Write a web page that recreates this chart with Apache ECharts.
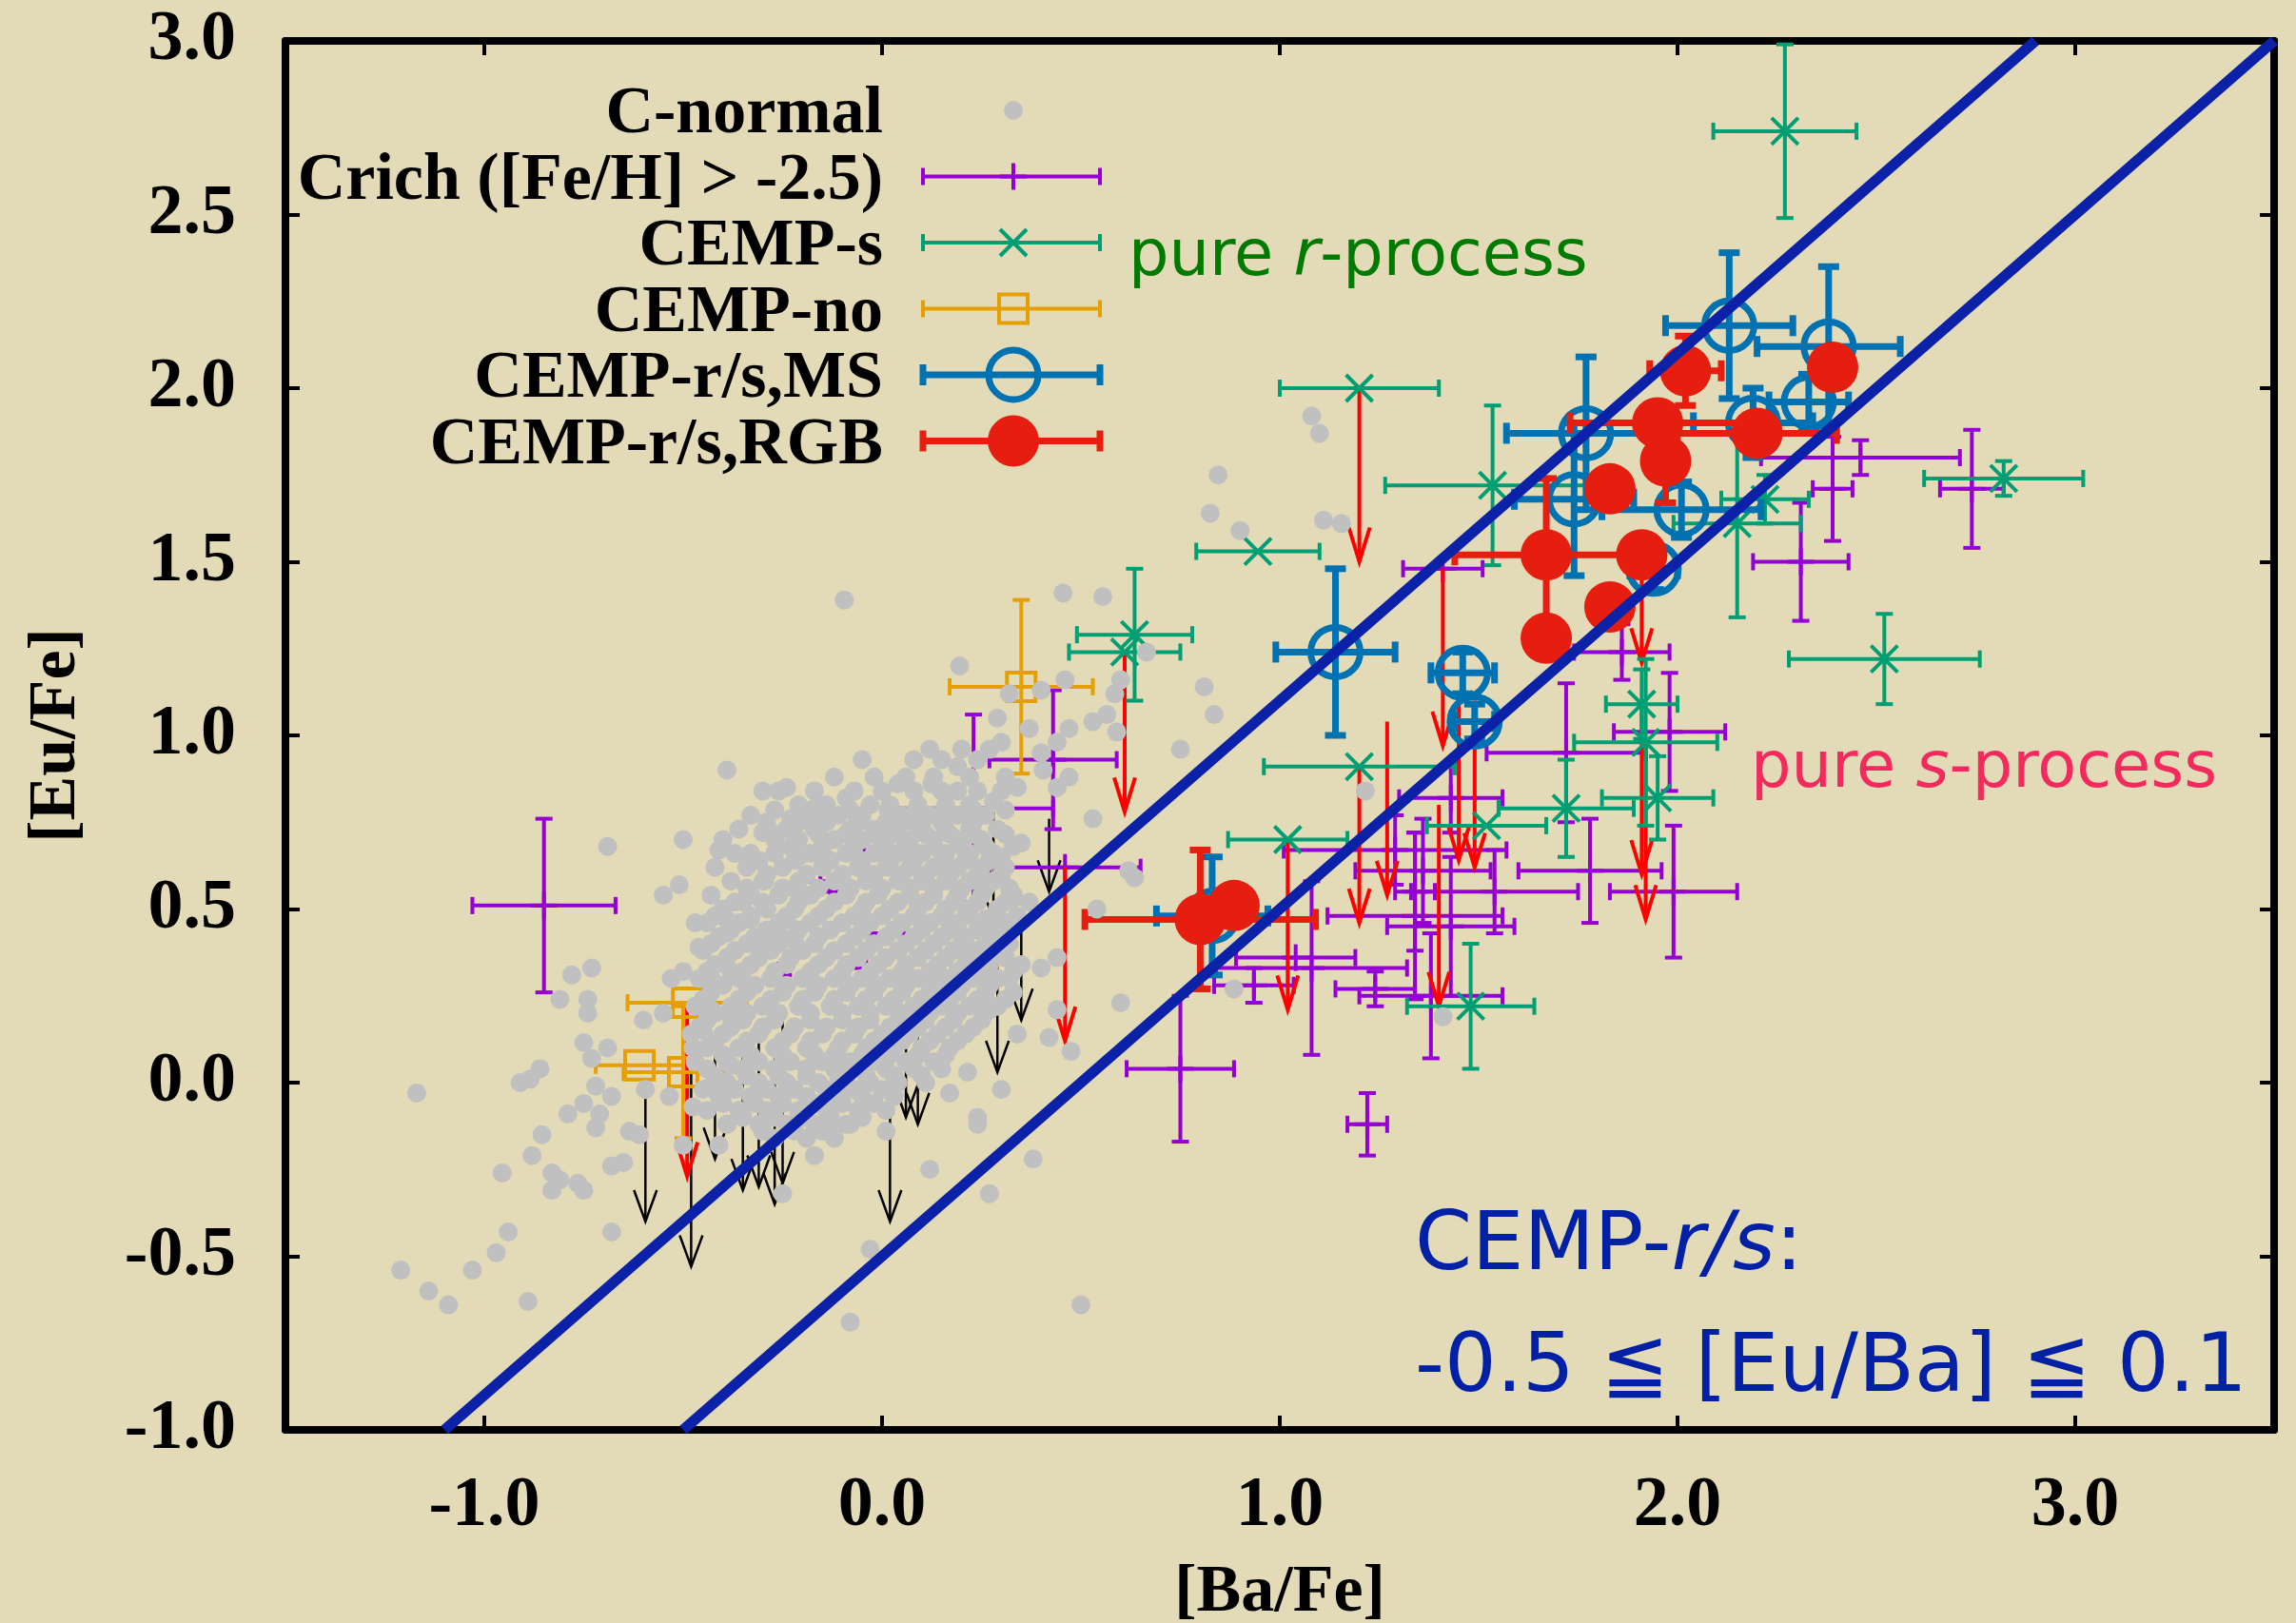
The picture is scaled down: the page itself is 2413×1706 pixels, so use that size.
<!DOCTYPE html>
<html>
<head>
<meta charset="utf-8">
<script src="https://cdn.jsdelivr.net/npm/echarts@6.0.0/dist/echarts.min.js"></script>
<style>
html,body{margin:0;padding:0;background:#e3dbb7}
#chart{width:2413px;height:1706px}
</style>
</head>
<body>
<div id="chart"></div>
<script>
// [x, y] C-normal stars (core is estimated)
var cNormal = [
  [1.08,1.92],[1.10,1.87],[0.845,1.75],[0.825,1.64],[0.90,1.59],[1.11,1.62],[1.155,1.61],[-0.095,1.39],
  [0.455,1.41],[0.555,1.40],[0.195,1.20],[0.46,1.16],[0.60,1.16],[0.585,1.12],[0.665,1.24],[0.81,1.14],
  [0.835,1.06],[0.75,0.96],[0.29,1.05],[0.37,1.02],[0.47,1.02],[0.53,1.04],[0.565,1.06],[0.59,1.01],
  [0.30,0.98],[0.44,0.98],[0.40,0.95],[0.32,1.12],[0.40,1.13],
  [-0.39,0.90],[-0.69,0.68],[-0.50,0.70],[-0.41,0.67],[-0.26,0.84],[-0.24,0.85],[-0.17,0.79],[-0.09,0.82],
  [-0.23,0.76],[-0.06,0.76],[0.04,0.86],[0.125,0.86],[-0.30,0.72],[-0.27,0.70],[-0.33,0.66],[-0.31,0.64],
  [-0.295,0.58],[-0.51,0.57],[-0.55,0.54],[-0.35,0.52],[-0.39,0.47],[-0.47,0.46],[-0.39,0.43],[-0.46,0.39],
  [-0.33,0.47],[-0.24,0.47],[-0.30,0.40],[-0.22,0.41],[-0.22,0.56],[-0.21,0.65],[-0.145,0.65],[-0.145,0.69],
  [-0.78,0.31],[-0.73,0.33],[-0.81,0.24],[-0.74,0.24],[-0.74,0.20],[-0.60,0.18],[-0.53,0.30],[-0.50,0.32],
  [-0.55,0.20],[-0.75,0.115],[-0.69,0.10],[-0.73,0.07],[-0.86,0.04],[-0.91,0.00],[-0.885,0.01],[-1.17,-0.03],
  [-0.72,-0.01],[-0.68,-0.04],[-0.75,-0.06],[-0.79,-0.09],[-0.71,-0.09],[-0.595,-0.02],[-0.535,-0.04],
  [-0.475,0.10],[-0.45,0.15],[-0.43,0.21],[-0.43,0.30],[-0.38,0.32],[-0.38,0.19],[-0.38,0.05],[-0.43,-0.01],
  [-0.36,-0.08],[-0.475,-0.07],
  [-0.855,-0.15],[-0.88,-0.21],[-0.955,-0.26],[-0.83,-0.26],[-0.81,-0.28],[-0.83,-0.31],[-0.765,-0.29],
  [-0.75,-0.31],[-0.94,-0.43],[-0.97,-0.49],[-1.03,-0.54],[-1.21,-0.54],[-1.14,-0.60],[-1.09,-0.64],
  [-0.89,-0.63],[-0.68,-0.43],[-0.68,-0.24],[-0.65,-0.23],[-0.72,-0.13],[-0.635,-0.14],[-0.61,-0.15],
  [-0.50,-0.18],[-0.41,-0.18],[-0.39,-0.12],[-0.25,-0.32],[-0.17,-0.21],[-0.12,-0.16],[-0.08,-0.12],
  [0.01,-0.14],[0.12,-0.25],[-0.03,-0.48],[-0.08,-0.69],[-0.135,-0.13],
  [0.24,-0.12],[0.38,-0.22],[0.27,-0.32],[0.50,-0.64],
  [0.19,0.91],[0.31,0.88],[0.405,0.90],[0.47,0.88],[0.34,0.85],[0.44,0.85],[0.19,0.84],[0.28,0.81],
  [0.53,0.76],[0.35,0.69],[0.30,0.65],[0.62,0.61],[0.635,0.59],[0.26,0.56],[0.33,0.53],[0.37,0.52],
  [0.54,0.50],[0.26,0.47],[0.44,0.36],[0.40,0.33],[0.32,0.30],[0.60,0.23],[0.44,0.21],[0.27,0.21],
  [0.34,0.14],[0.42,0.13],[0.475,0.09],[0.215,0.03],[0.30,-0.02],[0.24,-0.10],[0.17,-0.03],[0.885,0.27],
  [1.215,0.84],[1.41,0.19],
  // dense core
  [-0.21,0.80],[-0.14,0.80],[-0.03,0.80],[0.02,0.80],[0.09,0.80],[0.16,0.80],[0.22,0.80],
  [-0.33,0.77],[-0.18,0.77],[-0.11,0.77],[-0.05,0.77],[0.05,0.77],[0.12,0.77],[0.19,0.77],[0.26,0.77],
  [-0.36,0.73],[-0.24,0.73],[-0.17,0.73],[-0.08,0.73],[-0.02,0.73],[0.04,0.73],[0.10,0.73],[0.16,0.73],[0.22,0.73],[0.29,0.73],
  [-0.40,0.70],[-0.21,0.70],[-0.12,0.70],[-0.05,0.70],[0.01,0.70],[0.07,0.70],[0.13,0.70],[0.19,0.70],[0.25,0.70],
  [-0.37,0.66],[-0.27,0.66],[-0.18,0.66],[-0.09,0.66],[-0.02,0.66],[0.04,0.66],[0.10,0.66],[0.16,0.66],[0.22,0.66],[0.28,0.66],
  [-0.42,0.62],[-0.34,0.62],[-0.25,0.62],[-0.15,0.62],[-0.06,0.62],[0.01,0.62],[0.07,0.62],[0.13,0.62],[0.19,0.62],[0.25,0.62],[0.31,0.62],
  [-0.38,0.58],[-0.30,0.58],[-0.21,0.58],[-0.12,0.58],[-0.04,0.58],[0.04,0.58],[0.10,0.58],[0.16,0.58],[0.22,0.58],[0.28,0.58],
  [-0.43,0.54],[-0.33,0.54],[-0.26,0.54],[-0.18,0.54],[-0.09,0.54],[-0.01,0.54],[0.07,0.54],[0.13,0.54],[0.19,0.54],[0.25,0.54],[0.33,0.54],
  [-0.40,0.50],[-0.29,0.50],[-0.22,0.50],[-0.14,0.50],[-0.05,0.50],[0.02,0.50],[0.09,0.50],[0.16,0.50],[0.22,0.50],[0.29,0.50],
  [-0.44,0.46],[-0.36,0.46],[-0.26,0.46],[-0.18,0.46],[-0.10,0.46],[-0.03,0.46],[0.05,0.46],[0.12,0.46],[0.19,0.46],[0.25,0.46],[0.31,0.46],
  [-0.41,0.42],[-0.32,0.42],[-0.25,0.42],[-0.16,0.42],[-0.07,0.42],[0.01,0.42],[0.08,0.42],[0.15,0.42],[0.21,0.42],[0.28,0.42],
  [-0.45,0.38],[-0.37,0.38],[-0.28,0.38],[-0.20,0.38],[-0.12,0.38],[-0.04,0.38],[0.04,0.38],[0.11,0.38],[0.18,0.38],[0.24,0.38],[0.30,0.38],
  [-0.42,0.34],[-0.33,0.34],[-0.24,0.34],[-0.16,0.34],[-0.09,0.34],[-0.01,0.34],[0.06,0.34],[0.14,0.34],[0.21,0.34],[0.27,0.34],[0.35,0.34],
  [-0.46,0.30],[-0.36,0.30],[-0.28,0.30],[-0.20,0.30],[-0.12,0.30],[-0.05,0.30],[0.02,0.30],[0.09,0.30],[0.16,0.30],[0.23,0.30],[0.29,0.30],
  [-0.43,0.26],[-0.34,0.26],[-0.25,0.26],[-0.17,0.26],[-0.09,0.26],[-0.02,0.26],[0.05,0.26],[0.12,0.26],[0.19,0.26],[0.26,0.26],[0.33,0.26],
  [-0.47,0.22],[-0.38,0.22],[-0.30,0.22],[-0.21,0.22],[-0.13,0.22],[-0.06,0.22],[0.01,0.22],[0.08,0.22],[0.15,0.22],[0.22,0.22],[0.29,0.22],
  [-0.44,0.18],[-0.35,0.18],[-0.27,0.18],[-0.18,0.18],[-0.10,0.18],[-0.03,0.18],[0.04,0.18],[0.11,0.18],[0.18,0.18],[0.25,0.18],
  [-0.48,0.14],[-0.40,0.14],[-0.31,0.14],[-0.23,0.14],[-0.15,0.14],[-0.07,0.14],[0.00,0.14],[0.07,0.14],[0.14,0.14],[0.21,0.14],
  [-0.44,0.10],[-0.36,0.10],[-0.27,0.10],[-0.19,0.10],[-0.11,0.10],[-0.04,0.10],[0.03,0.10],[0.10,0.10],[0.17,0.10],
  [-0.47,0.06],[-0.39,0.06],[-0.31,0.06],[-0.23,0.06],[-0.15,0.06],[-0.08,0.06],[-0.01,0.06],[0.06,0.06],[0.13,0.06],
  [-0.42,0.02],[-0.34,0.02],[-0.26,0.02],[-0.19,0.02],[-0.11,0.02],[-0.04,0.02],[0.03,0.02],[0.10,0.02],
  [-0.45,-0.02],[-0.37,-0.02],[-0.29,-0.02],[-0.22,-0.02],[-0.14,-0.02],[-0.07,-0.02],[0.00,-0.02],
  [-0.40,-0.06],[-0.32,-0.06],[-0.25,-0.06],[-0.17,-0.06],[-0.10,-0.06],[-0.02,-0.06],
  [-0.35,-0.10],[-0.27,-0.10],[-0.20,-0.10],[-0.13,-0.10],[-0.05,-0.10],
  [-0.30,-0.14],[-0.22,-0.14],[-0.15,-0.14],
  // second pass over the core, filling the gaps
  [0.12,0.96],[0.20,0.96],[0.27,0.96],
  [-0.05,0.93],[0.08,0.93],[0.15,0.93],[0.24,0.93],
  [-0.12,0.88],[-0.02,0.88],[0.06,0.88],[0.13,0.88],[0.22,0.88],
  [-0.30,0.84],[-0.17,0.84],[-0.07,0.84],[0.00,0.84],[0.08,0.84],[0.15,0.84],[0.24,0.84],[0.30,0.84],
  [-0.27,0.785],[-0.08,0.785],[0.015,0.785],[0.085,0.785],[0.155,0.785],[0.23,0.785],[0.31,0.785],
  [-0.29,0.75],[-0.21,0.75],[-0.14,0.75],[-0.06,0.75],[0.01,0.75],[0.08,0.75],[0.15,0.75],[0.23,0.75],
  [-0.27,0.715],[-0.16,0.715],[-0.09,0.715],[-0.02,0.715],[0.04,0.715],[0.11,0.715],[0.17,0.715],[0.23,0.715],[0.31,0.715],
  [-0.23,0.68],[-0.15,0.68],[-0.07,0.68],[0.00,0.68],[0.06,0.68],[0.13,0.68],[0.20,0.68],[0.26,0.68],[0.33,0.68],
  [-0.31,0.64],[-0.22,0.64],[-0.13,0.64],[-0.05,0.64],[0.02,0.64],[0.08,0.64],[0.15,0.64],[0.21,0.64],[0.27,0.64],
  [-0.29,0.60],[-0.19,0.60],[-0.10,0.60],[-0.02,0.60],[0.05,0.60],[0.11,0.60],[0.17,0.60],[0.24,0.60],[0.30,0.60],
  [-0.34,0.56],[-0.25,0.56],[-0.16,0.56],[-0.08,0.56],[0.00,0.56],[0.07,0.56],[0.13,0.56],[0.20,0.56],[0.26,0.56],[0.32,0.56],
  [-0.37,0.52],[-0.30,0.52],[-0.21,0.52],[-0.12,0.52],[-0.04,0.52],[0.04,0.52],[0.11,0.52],[0.18,0.52],[0.24,0.52],[0.31,0.52],
  [-0.42,0.48],[-0.33,0.48],[-0.24,0.48],[-0.16,0.48],[-0.07,0.48],[0.00,0.48],[0.08,0.48],[0.15,0.48],[0.21,0.48],[0.28,0.48],[0.34,0.48],
  [-0.38,0.44],[-0.29,0.44],[-0.21,0.44],[-0.13,0.44],[-0.05,0.44],[0.03,0.44],[0.10,0.44],[0.17,0.44],[0.24,0.44],[0.29,0.44],
  [-0.43,0.40],[-0.34,0.40],[-0.26,0.40],[-0.17,0.40],[-0.09,0.40],[-0.02,0.40],[0.06,0.40],[0.13,0.40],[0.20,0.40],[0.26,0.40],[0.32,0.40],
  [-0.39,0.36],[-0.31,0.36],[-0.23,0.36],[-0.14,0.36],[-0.06,0.36],[0.01,0.36],[0.09,0.36],[0.16,0.36],[0.22,0.36],[0.31,0.36],
  [-0.44,0.32],[-0.35,0.32],[-0.27,0.32],[-0.18,0.32],[-0.10,0.32],[-0.03,0.32],[0.05,0.32],[0.12,0.32],[0.19,0.32],[0.26,0.32],[0.33,0.32],
  [-0.40,0.28],[-0.32,0.28],[-0.24,0.28],[-0.16,0.28],[-0.08,0.28],[-0.01,0.28],[0.06,0.28],[0.13,0.28],[0.20,0.28],[0.27,0.28],
  [-0.45,0.24],[-0.36,0.24],[-0.28,0.24],[-0.20,0.24],[-0.12,0.24],[-0.04,0.24],[0.03,0.24],[0.10,0.24],[0.17,0.24],[0.24,0.24],[0.31,0.24],
  [-0.42,0.20],[-0.34,0.20],[-0.26,0.20],[-0.18,0.20],[-0.10,0.20],[-0.03,0.20],[0.05,0.20],[0.12,0.20],[0.19,0.20],[0.26,0.20],
  [-0.46,0.16],[-0.38,0.16],[-0.30,0.16],[-0.22,0.16],[-0.14,0.16],[-0.06,0.16],[0.02,0.16],[0.09,0.16],[0.16,0.16],[0.23,0.16],
  [-0.42,0.12],[-0.34,0.12],[-0.25,0.12],[-0.18,0.12],[-0.10,0.12],[-0.02,0.12],[0.05,0.12],[0.12,0.12],[0.19,0.12],
  [-0.40,0.08],[-0.33,0.08],[-0.25,0.08],[-0.17,0.08],[-0.12,0.08],[-0.05,0.08],[0.02,0.08],[0.09,0.08],[0.16,0.08],
  [-0.44,0.04],[-0.35,0.04],[-0.27,0.04],[-0.19,0.04],[-0.12,0.04],[-0.05,0.04],[0.01,0.04],[0.08,0.04],[0.15,0.04],
  [-0.39,0.00],[-0.31,0.00],[-0.24,0.00],[-0.16,0.00],[-0.09,0.00],[-0.03,0.00],[0.04,0.00],[0.11,0.00],
  [-0.41,-0.04],[-0.33,-0.04],[-0.26,-0.04],[-0.19,-0.04],[-0.11,-0.04],[-0.05,-0.04],[0.03,-0.04],
  [-0.44,-0.08],[-0.36,-0.08],[-0.29,-0.08],[-0.21,-0.08],[-0.14,-0.08],[-0.06,-0.08],[0.01,-0.08],
  [-0.39,-0.12],[-0.31,-0.12],[-0.24,-0.12],[-0.17,-0.12],[-0.09,-0.12],
  [-0.27,-0.16],[-0.19,-0.16]
];

// [x, y, xerr, yerr]
var crich = [
  [-0.85,0.51,0.18,0.25],[0.75,0.04,0.135,0.21],[1.22,-0.12,0.05,0.09],[2.31,1.50,0.12,0.17],
  [2.74,1.71,0.08,0.17],[2.46,1.80,0.25,0.05],[2.39,1.71,0.05,0.15],[1.99,0.55,0.16,0.19],
  [0.23,0.79,0.20,0.27],[0.43,0.93,0.16,0.20],[0.46,0.62,0.19,0],
  [-0.07,0.67,0,0],[-0.155,0.58,0,0],[-0.13,0.55,0,0],[-0.03,0.43,0,0],[0.045,0.43,0,0],[-0.04,0.33,0,0],[-0.26,0.31,0,0],
  [1.41,1.48,0.10,0],[1.72,0.95,0.20,0.20],[1.86,1.24,0.12,0.08],[1.98,1.01,0.14,0.17],
  [1.43,0.82,0.13,0.10],[1.29,0.67,0.28,0.10],[1.36,0.61,0.17,0.15],[1.78,0.61,0.18,0.15],
  [1.54,0.55,0.21,0.12],[1.34,0.48,0.22,0.24],[1.43,0.45,0.16,0.20],[1.04,0.36,0.15,0],
  [1.08,0.33,0.24,0.25],[0.935,0.28,0.10,0.05],[1.24,0.27,0.10,0.05],[1.38,0.25,0.18,0.18],[1.34,0.55,0.05,0.17]
];
var cempS = [
  [2.27,2.74,0.18,0.25],[1.20,2.00,0.20,0],[0.945,1.53,0.155,0],[0.635,1.29,0.145,0.19],[0.61,1.24,0.14,0],
  [1.535,1.72,0.27,0.23],[2.82,1.74,0.20,0.05],[2.52,1.22,0.24,0.13],[2.15,1.61,0.16,0.27],[2.22,1.68,0.11,0.07],
  [1.91,1.09,0.09,0.10],[1.92,0.98,0.18,0.24],[1.95,0.82,0.14,0.12],[1.20,0.91,0.24,0],[1.72,0.79,0.17,0.14],
  [1.52,0.74,0.15,0],[1.02,0.70,0.15,0],[1.48,0.22,0.16,0.18]
];
var cempNo = [
  [0.35,1.14,0.18,0.25],[-0.49,0.23,0.15,0],[-0.50,0.03,0.15,0.19],[-0.61,0.05,0.11,0]
];
var rsMS = [
  [2.13,2.18,0.16,0.21],[2.38,2.12,0.18,0.23],[2.19,1.90,0.15,0.10],[2.33,1.96,0.10,0.08],
  [1.77,1.87,0.20,0.22],[1.74,1.68,0.15,0.22],[2.01,1.65,0.20,0.08],[1.94,1.48,0.06,0.06],
  [1.14,1.24,0.15,0.24],[1.46,1.18,0.08,0.06],[1.49,1.04,0.05,0.05],[0.83,0.48,0.14,0.17]
];
var rsRGB = [
  [2.02,2.05,0.09,0.10],[2.39,2.06,0.05,0.05],[1.95,1.90,0.22,0.05],[2.20,1.87,0.20,0.05],
  [1.97,1.79,0.05,0.12],[1.83,1.71,0.05,0.05],[1.67,1.52,0.23,0.22],[1.91,1.52,0.05,0.05],
  [1.83,1.37,0.05,0.05],[1.67,1.28,0.05,0.05],[0.80,0.47,0.29,0.20],[0.885,0.51,0.05,0.05]
];
// upper limits on [Eu/Fe]: [x, y from, y to]
var redLimits = [
  [1.20,2.00,1.50],[0.61,1.24,0.78],[1.20,0.91,0.46],[1.02,0.70,0.21],[1.41,1.48,0.97],[1.27,1.04,0.54],
  [1.45,1.10,0.64],[1.49,1.10,0.62],[1.40,0.80,0.22],[1.91,1.45,1.21],[1.91,1.09,0.60],[1.92,0.98,0.47],
  [0.46,0.62,0.12],[-0.49,0.22,-0.27]
];
var blackLimits = [
  [-0.595,-0.02,-0.40],[-0.48,0.03,-0.53],[-0.42,0.14,-0.22],[-0.35,0.10,-0.31],[-0.31,0.15,-0.30],
  [-0.27,0.10,-0.35],[-0.25,0.20,-0.29],[0.02,0.10,-0.40],[0.09,0.25,-0.12],[0.06,0.15,-0.10],
  [0.28,0.78,0.47],[0.29,0.50,0.03],[0.35,0.48,0.18],[0.42,0.76,0.55]
];
// [Eu/Ba] = 0.1 and [Eu/Ba] = -0.5
var upperBound = [[-1.1,-1.0],[2.9,3.0]];
var lowerBound = [[-0.5,-1.0],[3.5,3.0]];
var xTicks = [-1, 0, 1, 2, 3];
var legendNames = ['C-normal', 'Crich ([Fe/H] > -2.5)', 'CEMP-s', 'CEMP-no', 'CEMP-r/s,MS', 'CEMP-r/s,RGB'];

var PURPLE = '#9400d3', GREEN = '#009e73', ORANGE = '#e69f00', BLUE = '#0072b2', RED = '#e51e10';
var SERIF = '"Liberation Serif", "Times New Roman", serif';
var SANS = '"DejaVu Sans", Verdana, sans-serif';

function ln(x1, y1, x2, y2, c, w) {
  return {type: 'line', shape: {x1: x1, y1: y1, x2: x2, y2: y2}, style: {stroke: c, lineWidth: w}};
}

function marker(kind, cx, cy, color) {
  var s;
  if (kind === 'plus') {
    s = 14;
    return [ln(cx - s, cy, cx + s, cy, color, 4), ln(cx, cy - s, cx, cy + s, color, 4)];
  }
  if (kind === 'cross') {
    s = 14;
    return [ln(cx - s, cy - s, cx + s, cy + s, color, 4), ln(cx - s, cy + s, cx + s, cy - s, color, 4)];
  }
  if (kind === 'square') {
    return [{type: 'rect', shape: {x: cx - 15, y: cy - 15, width: 30, height: 30}, style: {stroke: color, lineWidth: 4, fill: null}}];
  }
  if (kind === 'ring') {
    return [{type: 'circle', shape: {cx: cx, cy: cy, r: 26}, style: {stroke: color, lineWidth: 7, fill: null}}];
  }
  if (kind === 'disc') {
    return [{type: 'circle', shape: {cx: cx, cy: cy, r: 27}, style: {fill: color}}];
  }
  return [{type: 'circle', shape: {cx: cx, cy: cy, r: 10}, style: {fill: color}}];
}

function errorSeries(name, data, kind, color, lw, cap) {
  return {
    type: 'custom', name: name, data: data, clip: true, encode: {x: 0, y: 1},
    renderItem: function (p, api) {
      var x = api.value(0), y = api.value(1), ex = api.value(2), ey = api.value(3);
      var c = api.coord([x, y]);
      var kids = [];
      if (ex > 0) {
        var l = api.coord([x - ex, y]), r = api.coord([x + ex, y]);
        kids.push(ln(l[0], c[1], r[0], c[1], color, lw));
        kids.push(ln(l[0], c[1] - cap, l[0], c[1] + cap, color, lw));
        kids.push(ln(r[0], c[1] - cap, r[0], c[1] + cap, color, lw));
      }
      if (ey > 0) {
        var t = api.coord([x, y + ey]), b = api.coord([x, y - ey]);
        kids.push(ln(c[0], t[1], c[0], b[1], color, lw));
        kids.push(ln(c[0] - cap, t[1], c[0] + cap, t[1], color, lw));
        kids.push(ln(c[0] - cap, b[1], c[0] + cap, b[1], color, lw));
      }
      return {type: 'group', children: kids.concat(marker(kind, c[0], c[1], color))};
    }
  };
}

function arrowSeries(data, color, lw, hw, hh) {
  return {
    type: 'custom', data: data, clip: true, encode: {x: 0, y: 1},
    renderItem: function (p, api) {
      var x = api.value(0);
      var a = api.coord([x, api.value(1)]), b = api.coord([x, api.value(2)]);
      return {type: 'group', children: [
        ln(a[0], a[1], b[0], b[1], color, lw),
        {type: 'polyline', shape: {points: [[b[0] - hw, b[1] - hh], [b[0], b[1]], [b[0] + hw, b[1] - hh]]},
          style: {stroke: color, lineWidth: lw, fill: null}}
      ]};
    }
  };
}

// legend drawn as graphic elements
var legendKinds = [
  ['dot', '#c0c0c0', 0], ['plus', PURPLE, 4], ['cross', GREEN, 4],
  ['square', ORANGE, 4], ['ring', BLUE, 7], ['disc', RED, 7]
];
var legendEls = [];
legendNames.forEach(function (nm, i) {
  var y = 116 + i * 69.5;
  legendEls.push({type: 'text', x: 928, y: y + 5, style: {text: nm, fill: '#000', fontFamily: SERIF, fontWeight: 'bold',
    fontSize: 70, textAlign: 'right', textVerticalAlign: 'middle'}});
  var k = legendKinds[i];
  if (k[2] > 0) {
    var cap = k[2] > 5 ? 11 : 9;
    legendEls.push(ln(970, y, 1156, y, k[1], k[2]));
    legendEls.push(ln(970, y - cap, 970, y + cap, k[1], k[2]));
    legendEls.push(ln(1156, y - cap, 1156, y + cap, k[1], k[2]));
  }
  legendEls = legendEls.concat(marker(k[0], 1065, y, k[1]));
});

var annot = [
  {type: 'text', x: 1186, y: 272, style: {
    text: '{n|pure }{i|r}{n|-process}', textVerticalAlign: 'middle',
    rich: {n: {fontFamily: SANS, fontSize: 67, fill: '#007a00'}, i: {fontFamily: SANS, fontSize: 67, fontStyle: 'italic', fill: '#007a00'}}
  }},
  {type: 'text', x: 1840, y: 810, style: {
    text: '{n|pure }{i|s}{n|-process}', textVerticalAlign: 'middle',
    rich: {n: {fontFamily: SANS, fontSize: 67, fill: '#f22a5e'}, i: {fontFamily: SANS, fontSize: 67, fontStyle: 'italic', fill: '#f22a5e'}}
  }},
  {type: 'text', x: 1487, y: 1312, style: {
    text: '{n|CEMP-}{i|r/s}{n|:}', textVerticalAlign: 'middle',
    rich: {n: {fontFamily: SANS, fontSize: 86, fill: '#0020a6'}, i: {fontFamily: SANS, fontSize: 86, fontStyle: 'italic', fill: '#0020a6'}}
  }},
  {type: 'text', x: 1487, y: 1440, style: {
    text: '-0.5 ≦ [Eu/Ba] ≦ 0.1', textVerticalAlign: 'middle',
    fontFamily: SANS, fontSize: 86, fill: '#0020a6'
  }}
];

var axisLine = {show: true, onZero: false, lineStyle: {color: '#000', width: 8}};
var tickStyle = {inside: true, length: 15, lineStyle: {color: '#000', width: 4}};
var labelFont = {fontFamily: SERIF, fontWeight: 'bold', fontSize: 74, color: '#000'};

var chart = echarts.init(document.getElementById('chart'), null, {renderer: 'canvas'});
chart.setOption({
  backgroundColor: '#e3dbb7',
  animation: false,
  grid: {left: 300, right: 23, top: 43, bottom: 203, containLabel: false, outerBoundsMode: 'none'},
  xAxis: [
    {type: 'value', min: -1.5, max: 3.5, position: 'bottom', name: '[Ba/Fe]', nameLocation: 'middle', nameGap: 137,
      nameTextStyle: {fontFamily: SERIF, fontWeight: 'bold', fontSize: 70, color: '#000'},
      axisLine: axisLine,
      axisTick: Object.assign({customValues: xTicks}, tickStyle),
      axisLabel: Object.assign({customValues: xTicks, margin: 44, formatter: function (v) { return v.toFixed(1); }}, labelFont),
      splitLine: {show: false}},
    {type: 'value', min: -1.5, max: 3.5, position: 'top', axisLine: axisLine,
      axisTick: Object.assign({customValues: xTicks}, tickStyle), axisLabel: {show: false}, splitLine: {show: false}}
  ],
  yAxis: [
    {type: 'value', min: -1, max: 3, interval: 0.5, position: 'left', name: '[Eu/Fe]', nameLocation: 'middle', nameGap: 205,
      nameRotate: 90, nameTextStyle: {fontFamily: SERIF, fontWeight: 'bold', fontSize: 70, color: '#000'},
      axisLine: axisLine, axisTick: tickStyle,
      axisLabel: Object.assign({margin: 52, formatter: function (v) { return v.toFixed(1); }}, labelFont),
      splitLine: {show: false}},
    {type: 'value', min: -1, max: 3, interval: 0.5, position: 'right', axisLine: axisLine, axisTick: tickStyle,
      axisLabel: {show: false}, splitLine: {show: false}}
  ],
  series: [
    {type: 'scatter', name: 'C-normal', data: cNormal, symbol: 'circle', symbolSize: 20, large: false,
      itemStyle: {color: '#c0c0c0', opacity: 1}, silent: true},
    arrowSeries(blackLimits, '#000', 2.5, 12, 33),
    errorSeries('Crich', crich, 'plus', PURPLE, 4, 9),
    arrowSeries(redLimits, '#ff0000', 4, 11, 36),
    errorSeries('CEMP-s', cempS, 'cross', GREEN, 4, 9),
    errorSeries('CEMP-no', cempNo, 'square', ORANGE, 4, 9),
    errorSeries('CEMP-r/s,MS', rsMS, 'ring', BLUE, 7, 11),
    errorSeries('CEMP-r/s,RGB', rsRGB, 'disc', RED, 7, 11),
    {type: 'line', data: upperBound, symbol: 'none', z: 5, lineStyle: {color: '#0b21a8', width: 11}, silent: true},
    {type: 'line', data: lowerBound, symbol: 'none', z: 5, lineStyle: {color: '#0b21a8', width: 11}, silent: true}
  ],
  graphic: legendEls.concat(annot)
});
</script>
</body>
</html>
